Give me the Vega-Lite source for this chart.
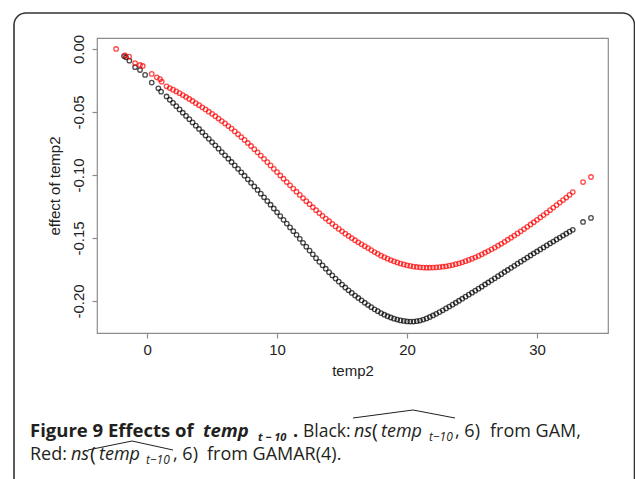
{
"$schema": "https://vega.github.io/schema/vega-lite/v6.json",
"width": 511, "height": 295,
"autosize": {"type": "none"},
"padding": {"left": 97, "top": 38, "right": 27, "bottom": 146},
"background": "white",
"config": {
 "view": {"stroke": "#8c8c8c", "strokeWidth": 1.2},
 "axis": {"domain": false, "grid": false, "tickColor": "#8c8c8c", "tickSize": 5, "tickWidth": 1.2,
  "labelFont": "Liberation Sans", "labelFontSize": 15, "labelColor": "#222",
  "titleFont": "Liberation Sans", "titleFontSize": 15, "titleFontWeight": "normal", "titleColor": "#222"}
},
"layer": [
 {"data": {"values": [{}]}, "mark": {"type": "rect", "cornerRadius": 12, "fill": "white", "fillOpacity": 0, "stroke": "#333", "strokeWidth": 1.6},
  "encoding": {"x": {"value": -83}, "x2": {"value": 537.5}, "y": {"value": -25}, "y2": {"value": 470}}},
 {"data": {"values": [
{"temp2":-1.77,"effect":-0.0056},{"temp2":-1.62,"effect":-0.0066},{"temp2":-1.36,"effect":-0.0093},{"temp2":-0.92,"effect":-0.0145},{"temp2":-0.54,"effect":-0.0167},{"temp2":-0.15,"effect":-0.0206},{"temp2":0.36,"effect":-0.0267},{"temp2":0.87,"effect":-0.0312},{"temp2":1.08,"effect":-0.0339},
{"temp2":1.5,"effect":-0.0377},{"temp2":1.75,"effect":-0.0403},{"temp2":2.0,"effect":-0.0428},{"temp2":2.25,"effect":-0.0454},{"temp2":2.5,"effect":-0.048},{"temp2":2.75,"effect":-0.0506},{"temp2":3.0,"effect":-0.0531},{"temp2":3.25,"effect":-0.0557},{"temp2":3.5,"effect":-0.0583},{"temp2":3.75,"effect":-0.0609},
{"temp2":4.0,"effect":-0.0635},{"temp2":4.25,"effect":-0.0661},{"temp2":4.5,"effect":-0.0687},{"temp2":4.75,"effect":-0.0713},{"temp2":5.0,"effect":-0.0739},{"temp2":5.25,"effect":-0.0765},{"temp2":5.5,"effect":-0.0791},{"temp2":5.75,"effect":-0.0818},{"temp2":6.0,"effect":-0.0844},{"temp2":6.25,"effect":-0.0871},
{"temp2":6.5,"effect":-0.0897},{"temp2":6.75,"effect":-0.0924},{"temp2":7.0,"effect":-0.0951},{"temp2":7.25,"effect":-0.0979},{"temp2":7.5,"effect":-0.1006},{"temp2":7.75,"effect":-0.1034},{"temp2":8.0,"effect":-0.1062},{"temp2":8.25,"effect":-0.1091},{"temp2":8.5,"effect":-0.1119},{"temp2":8.75,"effect":-0.1148},
{"temp2":9.0,"effect":-0.1177},{"temp2":9.25,"effect":-0.1207},{"temp2":9.5,"effect":-0.1236},{"temp2":9.75,"effect":-0.1266},{"temp2":10.0,"effect":-0.1296},{"temp2":10.25,"effect":-0.1326},{"temp2":10.5,"effect":-0.1356},{"temp2":10.75,"effect":-0.1386},{"temp2":11.0,"effect":-0.1416},{"temp2":11.25,"effect":-0.1446},
{"temp2":11.5,"effect":-0.1475},{"temp2":11.75,"effect":-0.1507},{"temp2":12.0,"effect":-0.1538},{"temp2":12.25,"effect":-0.1569},{"temp2":12.5,"effect":-0.16},{"temp2":12.75,"effect":-0.163},{"temp2":13.0,"effect":-0.166},{"temp2":13.25,"effect":-0.1689},{"temp2":13.5,"effect":-0.1717},{"temp2":13.75,"effect":-0.1744},
{"temp2":14.0,"effect":-0.1771},{"temp2":14.25,"effect":-0.1797},{"temp2":14.5,"effect":-0.1822},{"temp2":14.75,"effect":-0.1846},{"temp2":15.0,"effect":-0.187},{"temp2":15.25,"effect":-0.1893},{"temp2":15.5,"effect":-0.1915},{"temp2":15.75,"effect":-0.1936},{"temp2":16.0,"effect":-0.1957},{"temp2":16.25,"effect":-0.1976},
{"temp2":16.5,"effect":-0.1995},{"temp2":16.75,"effect":-0.2014},{"temp2":17.0,"effect":-0.2032},{"temp2":17.25,"effect":-0.2049},{"temp2":17.5,"effect":-0.2066},{"temp2":17.75,"effect":-0.2081},{"temp2":18.0,"effect":-0.2096},{"temp2":18.25,"effect":-0.2109},{"temp2":18.5,"effect":-0.2121},{"temp2":18.75,"effect":-0.2131},
{"temp2":19.0,"effect":-0.214},{"temp2":19.25,"effect":-0.2147},{"temp2":19.5,"effect":-0.2154},{"temp2":19.75,"effect":-0.2158},{"temp2":20.0,"effect":-0.2162},{"temp2":20.25,"effect":-0.2163},{"temp2":20.5,"effect":-0.2163},{"temp2":20.75,"effect":-0.216},{"temp2":21.0,"effect":-0.2155},{"temp2":21.25,"effect":-0.2147},
{"temp2":21.5,"effect":-0.2138},{"temp2":21.75,"effect":-0.2127},{"temp2":22.0,"effect":-0.2115},{"temp2":22.25,"effect":-0.2102},{"temp2":22.5,"effect":-0.2088},{"temp2":22.75,"effect":-0.2074},{"temp2":23.0,"effect":-0.2059},{"temp2":23.25,"effect":-0.2044},{"temp2":23.5,"effect":-0.2029},{"temp2":23.75,"effect":-0.2014},
{"temp2":24.0,"effect":-0.1998},{"temp2":24.25,"effect":-0.1982},{"temp2":24.5,"effect":-0.1966},{"temp2":24.75,"effect":-0.195},{"temp2":25.0,"effect":-0.1934},{"temp2":25.25,"effect":-0.1918},{"temp2":25.5,"effect":-0.1902},{"temp2":25.75,"effect":-0.1886},{"temp2":26.0,"effect":-0.1869},{"temp2":26.25,"effect":-0.1853},
{"temp2":26.5,"effect":-0.1836},{"temp2":26.75,"effect":-0.182},{"temp2":27.0,"effect":-0.1803},{"temp2":27.25,"effect":-0.1787},{"temp2":27.5,"effect":-0.177},{"temp2":27.75,"effect":-0.1754},{"temp2":28.0,"effect":-0.1737},{"temp2":28.25,"effect":-0.1721},{"temp2":28.5,"effect":-0.1704},{"temp2":28.75,"effect":-0.1688},
{"temp2":29.0,"effect":-0.1671},{"temp2":29.25,"effect":-0.1655},{"temp2":29.5,"effect":-0.1639},{"temp2":29.75,"effect":-0.1623},{"temp2":30.0,"effect":-0.1607},{"temp2":30.25,"effect":-0.1591},{"temp2":30.5,"effect":-0.1575},{"temp2":30.75,"effect":-0.1559},{"temp2":31.0,"effect":-0.1543},{"temp2":31.25,"effect":-0.1528},
{"temp2":31.5,"effect":-0.1512},{"temp2":31.75,"effect":-0.1497},{"temp2":32.0,"effect":-0.1481},{"temp2":32.25,"effect":-0.1466},{"temp2":32.5,"effect":-0.145},{"temp2":32.75,"effect":-0.1435},{"temp2":33.54,"effect":-0.1373},{"temp2":34.15,"effect":-0.1341}
 ]},
  "mark": {"type": "point", "shape": "circle", "filled": false, "size": 20, "strokeWidth": 1.3, "color": "#000000"},
  "encoding": {
   "x": {"field": "temp2", "type": "quantitative", "scale": {"domain": [-3.85, 35.46], "nice": false, "zero": false},
     "axis": {"values": [0, 10, 20, 30], "title": "temp2", "labelPadding": 4, "titlePadding": 6}},
   "y": {"field": "effect", "type": "quantitative", "scale": {"domain": [-0.2254, 0.0087], "nice": false, "zero": false},
     "axis": {"values": [0, -0.05, -0.1, -0.15, -0.2], "title": "effect of temp2", "labelAngle": 270, "labelAlign": "center", "labelBaseline": "bottom", "labelPadding": 6, "titlePadding": 9,
       "labelExpr": "replace(format(datum.value, '.2f'), '−', '-')"}}
  }},
 {"data": {"values": [
{"temp2":-2.38,"effect":0.0},{"temp2":-1.69,"effect":-0.005},{"temp2":-1.38,"effect":-0.0061},{"temp2":-0.92,"effect":-0.0113},{"temp2":-0.54,"effect":-0.0127},{"temp2":-0.33,"effect":-0.0135},{"temp2":0.36,"effect":-0.0198},{"temp2":0.75,"effect":-0.0225},{"temp2":1.0,"effect":-0.024},{"temp2":1.13,"effect":-0.026},
{"temp2":1.5,"effect":-0.0296},{"temp2":1.75,"effect":-0.031},{"temp2":2.0,"effect":-0.0323},{"temp2":2.25,"effect":-0.0337},{"temp2":2.5,"effect":-0.0351},{"temp2":2.75,"effect":-0.0366},{"temp2":3.0,"effect":-0.0381},{"temp2":3.25,"effect":-0.0397},{"temp2":3.5,"effect":-0.0413},{"temp2":3.75,"effect":-0.043},
{"temp2":4.0,"effect":-0.0446},{"temp2":4.25,"effect":-0.0463},{"temp2":4.5,"effect":-0.048},{"temp2":4.75,"effect":-0.0498},{"temp2":5.0,"effect":-0.0515},{"temp2":5.25,"effect":-0.0534},{"temp2":5.5,"effect":-0.0552},{"temp2":5.75,"effect":-0.0572},{"temp2":6.0,"effect":-0.0591},{"temp2":6.25,"effect":-0.0612},
{"temp2":6.5,"effect":-0.0632},{"temp2":6.75,"effect":-0.0654},{"temp2":7.0,"effect":-0.0676},{"temp2":7.25,"effect":-0.0699},{"temp2":7.5,"effect":-0.0722},{"temp2":7.75,"effect":-0.0746},{"temp2":8.0,"effect":-0.077},{"temp2":8.25,"effect":-0.0795},{"temp2":8.5,"effect":-0.082},{"temp2":8.75,"effect":-0.0846},
{"temp2":9.0,"effect":-0.0872},{"temp2":9.25,"effect":-0.0898},{"temp2":9.5,"effect":-0.0924},{"temp2":9.75,"effect":-0.0951},{"temp2":10.0,"effect":-0.0977},{"temp2":10.25,"effect":-0.1004},{"temp2":10.5,"effect":-0.103},{"temp2":10.75,"effect":-0.1056},{"temp2":11.0,"effect":-0.1082},{"temp2":11.25,"effect":-0.1108},
{"temp2":11.5,"effect":-0.1133},{"temp2":11.75,"effect":-0.1158},{"temp2":12.0,"effect":-0.1183},{"temp2":12.25,"effect":-0.1208},{"temp2":12.5,"effect":-0.1232},{"temp2":12.75,"effect":-0.1256},{"temp2":13.0,"effect":-0.1279},{"temp2":13.25,"effect":-0.1302},{"temp2":13.5,"effect":-0.1324},{"temp2":13.75,"effect":-0.1346},
{"temp2":14.0,"effect":-0.1367},{"temp2":14.25,"effect":-0.1388},{"temp2":14.5,"effect":-0.1408},{"temp2":14.75,"effect":-0.1428},{"temp2":15.0,"effect":-0.1447},{"temp2":15.25,"effect":-0.1466},{"temp2":15.5,"effect":-0.1484},{"temp2":15.75,"effect":-0.1501},{"temp2":16.0,"effect":-0.1518},{"temp2":16.25,"effect":-0.1534},
{"temp2":16.5,"effect":-0.155},{"temp2":16.75,"effect":-0.1565},{"temp2":17.0,"effect":-0.158},{"temp2":17.25,"effect":-0.1596},{"temp2":17.5,"effect":-0.1612},{"temp2":17.75,"effect":-0.1626},{"temp2":18.0,"effect":-0.164},{"temp2":18.25,"effect":-0.1652},{"temp2":18.5,"effect":-0.1664},{"temp2":18.75,"effect":-0.1675},
{"temp2":19.0,"effect":-0.1685},{"temp2":19.25,"effect":-0.1694},{"temp2":19.5,"effect":-0.1703},{"temp2":19.75,"effect":-0.171},{"temp2":20.0,"effect":-0.1717},{"temp2":20.25,"effect":-0.1722},{"temp2":20.5,"effect":-0.1727},{"temp2":20.75,"effect":-0.173},{"temp2":21.0,"effect":-0.1733},{"temp2":21.25,"effect":-0.1735},
{"temp2":21.5,"effect":-0.1736},{"temp2":21.75,"effect":-0.1736},{"temp2":22.0,"effect":-0.1735},{"temp2":22.25,"effect":-0.1733},{"temp2":22.5,"effect":-0.1731},{"temp2":22.75,"effect":-0.1728},{"temp2":23.0,"effect":-0.1725},{"temp2":23.25,"effect":-0.172},{"temp2":23.5,"effect":-0.1715},{"temp2":23.75,"effect":-0.1708},
{"temp2":24.0,"effect":-0.1701},{"temp2":24.25,"effect":-0.1693},{"temp2":24.5,"effect":-0.1684},{"temp2":24.75,"effect":-0.1674},{"temp2":25.0,"effect":-0.1664},{"temp2":25.25,"effect":-0.1653},{"temp2":25.5,"effect":-0.1642},{"temp2":25.75,"effect":-0.163},{"temp2":26.0,"effect":-0.1617},{"temp2":26.25,"effect":-0.1604},
{"temp2":26.5,"effect":-0.159},{"temp2":26.75,"effect":-0.1576},{"temp2":27.0,"effect":-0.1561},{"temp2":27.25,"effect":-0.1546},{"temp2":27.5,"effect":-0.153},{"temp2":27.75,"effect":-0.1514},{"temp2":28.0,"effect":-0.1498},{"temp2":28.25,"effect":-0.1481},{"temp2":28.5,"effect":-0.1464},{"temp2":28.75,"effect":-0.1447},
{"temp2":29.0,"effect":-0.1429},{"temp2":29.25,"effect":-0.1411},{"temp2":29.5,"effect":-0.1393},{"temp2":29.75,"effect":-0.1375},{"temp2":30.0,"effect":-0.1356},{"temp2":30.25,"effect":-0.1337},{"temp2":30.5,"effect":-0.1318},{"temp2":30.75,"effect":-0.1299},{"temp2":31.0,"effect":-0.1279},{"temp2":31.25,"effect":-0.1259},
{"temp2":31.5,"effect":-0.1239},{"temp2":31.75,"effect":-0.1219},{"temp2":32.0,"effect":-0.1199},{"temp2":32.25,"effect":-0.1179},{"temp2":32.5,"effect":-0.1158},{"temp2":32.75,"effect":-0.1136},{"temp2":33.54,"effect":-0.1056},{"temp2":34.15,"effect":-0.1016}
 ]},
  "mark": {"type": "point", "shape": "circle", "filled": false, "size": 20, "strokeWidth": 1.3, "color": "#ff0000"},
  "encoding": {"x": {"field": "temp2", "type": "quantitative"}, "y": {"field": "effect", "type": "quantitative"}}},
 {"data": {"values": [{}]}, "mark": {"type": "text", "text": "Figure 9 Effects of", "font": "Open Sans", "fontSize": 18.5, "fontWeight": "bold", "align": "left", "baseline": "alphabetic", "color": "#231f20"}, "encoding": {"x": {"value": -67}, "y": {"value": 399}}},
 {"data": {"values": [{}]}, "mark": {"type": "text", "text": "temp", "font": "Open Sans", "fontSize": 18.5, "fontWeight": "bold", "fontStyle": "italic", "align": "left", "baseline": "alphabetic", "color": "#231f20"}, "encoding": {"x": {"value": 106}, "y": {"value": 399}}},
 {"data": {"values": [{}]}, "mark": {"type": "text", "text": "t − 10", "font": "Open Sans", "fontSize": 11, "fontWeight": "bold", "fontStyle": "italic", "align": "left", "baseline": "alphabetic", "color": "#231f20"}, "encoding": {"x": {"value": 161}, "y": {"value": 403}}},
 {"data": {"values": [{}]}, "mark": {"type": "text", "text": ".", "font": "Open Sans", "fontSize": 18, "fontWeight": "bold", "align": "left", "baseline": "alphabetic", "color": "#231f20"}, "encoding": {"x": {"value": 196}, "y": {"value": 399}}},
 {"data": {"values": [{}]}, "mark": {"type": "text", "text": "Black:", "font": "Open Sans", "fontSize": 17.5, "align": "left", "baseline": "alphabetic", "color": "#231f20"}, "encoding": {"x": {"value": 206}, "y": {"value": 399}}},
 {"data": {"values": [{}]}, "mark": {"type": "text", "text": "ns", "font": "Open Sans", "fontSize": 18, "fontStyle": "italic", "align": "left", "baseline": "alphabetic", "color": "#231f20"}, "encoding": {"x": {"value": 257}, "y": {"value": 399}}},
 {"data": {"values": [{}]}, "mark": {"type": "text", "text": "(", "font": "Open Sans", "fontSize": 20, "align": "left", "baseline": "alphabetic", "color": "#231f20"}, "encoding": {"x": {"value": 275}, "y": {"value": 400}}},
 {"data": {"values": [{}]}, "mark": {"type": "text", "text": "temp", "font": "Open Sans", "fontSize": 18, "fontStyle": "italic", "align": "left", "baseline": "alphabetic", "color": "#231f20"}, "encoding": {"x": {"value": 284}, "y": {"value": 399}}},
 {"data": {"values": [{}]}, "mark": {"type": "text", "text": "t−10", "font": "Open Sans", "fontSize": 12, "fontStyle": "italic", "align": "left", "baseline": "alphabetic", "color": "#231f20"}, "encoding": {"x": {"value": 332}, "y": {"value": 403}}},
 {"data": {"values": [{}]}, "mark": {"type": "text", "text": ", 6)", "font": "Open Sans", "fontSize": 18, "align": "left", "baseline": "alphabetic", "color": "#231f20"}, "encoding": {"x": {"value": 358}, "y": {"value": 399}}},
 {"data": {"values": [{}]}, "mark": {"type": "text", "text": "from GAM,", "font": "Open Sans", "fontSize": 18, "align": "left", "baseline": "alphabetic", "color": "#231f20"}, "encoding": {"x": {"value": 393}, "y": {"value": 399}}},
 {"data": {"values": [{}]}, "mark": {"type": "text", "text": "Red:", "font": "Open Sans", "fontSize": 18, "align": "left", "baseline": "alphabetic", "color": "#231f20"}, "encoding": {"x": {"value": -67}, "y": {"value": 422}}},
 {"data": {"values": [{}]}, "mark": {"type": "text", "text": "ns", "font": "Open Sans", "fontSize": 18, "fontStyle": "italic", "align": "left", "baseline": "alphabetic", "color": "#231f20"}, "encoding": {"x": {"value": -26}, "y": {"value": 422}}},
 {"data": {"values": [{}]}, "mark": {"type": "text", "text": "(", "font": "Open Sans", "fontSize": 20, "align": "left", "baseline": "alphabetic", "color": "#231f20"}, "encoding": {"x": {"value": -7}, "y": {"value": 423}}},
 {"data": {"values": [{}]}, "mark": {"type": "text", "text": "temp", "font": "Open Sans", "fontSize": 18, "fontStyle": "italic", "align": "left", "baseline": "alphabetic", "color": "#231f20"}, "encoding": {"x": {"value": 2}, "y": {"value": 422}}},
 {"data": {"values": [{}]}, "mark": {"type": "text", "text": "t−10", "font": "Open Sans", "fontSize": 12, "fontStyle": "italic", "align": "left", "baseline": "alphabetic", "color": "#231f20"}, "encoding": {"x": {"value": 49}, "y": {"value": 426}}},
 {"data": {"values": [{}]}, "mark": {"type": "text", "text": ", 6)", "font": "Open Sans", "fontSize": 18, "align": "left", "baseline": "alphabetic", "color": "#231f20"}, "encoding": {"x": {"value": 76}, "y": {"value": 422}}},
 {"data": {"values": [{}]}, "mark": {"type": "text", "text": "from GAMAR(4).", "font": "Open Sans", "fontSize": 18, "align": "left", "baseline": "alphabetic", "color": "#231f20"}, "encoding": {"x": {"value": 110}, "y": {"value": 422}}},
 {"data": {"values": [{}]}, "mark": {"type": "rule", "color": "#231f20", "strokeWidth": 1}, "encoding": {"x": {"value": 256}, "y": {"value": 380}, "x2": {"value": 316}, "y2": {"value": 372}}},
 {"data": {"values": [{}]}, "mark": {"type": "rule", "color": "#231f20", "strokeWidth": 1}, "encoding": {"x": {"value": 316}, "y": {"value": 372}, "x2": {"value": 358}, "y2": {"value": 380}}},
 {"data": {"values": [{}]}, "mark": {"type": "rule", "color": "#231f20", "strokeWidth": 1}, "encoding": {"x": {"value": -9}, "y": {"value": 412}, "x2": {"value": 35}, "y2": {"value": 403}}},
 {"data": {"values": [{}]}, "mark": {"type": "rule", "color": "#231f20", "strokeWidth": 1}, "encoding": {"x": {"value": 35}, "y": {"value": 403}, "x2": {"value": 76}, "y2": {"value": 412}}}
]
}
